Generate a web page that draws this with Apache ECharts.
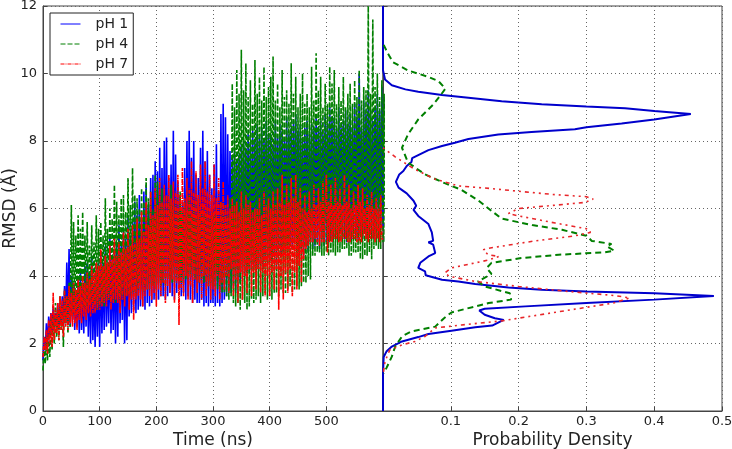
<!DOCTYPE html>
<html>
<head>
<meta charset="utf-8">
<title>RMSD</title>
<script src="https://cdn.jsdelivr.net/npm/echarts@6/dist/echarts.min.js"></script>
<style>
html, body { margin: 0; padding: 0; background: #fff; }
#main { width: 732px; height: 449px; }
</style>
</head>
<body>
<div id="main"></div>
<script>
// RMSD traces, one value every 2 ns, one row per 100 ns
var timeStep = 2;
var rmsdPh1 = [
    1.5,2.2,1.8,2.6,1.9,2.8,2.2,2.9,2.3,3.1,2.4,2.9,2.5,3.2,2.4,3.1,2.6,3.4,2.5,3.7,2.6,4.4,2.6,4.8,2.5,4.0,2.7,3.8,2.4,3.5,2.5,3.9,2.3,4.2,2.4,3.8,2.3,4.3,2.5,4.4,2.2,4.1,2.0,4.6,2.1,3.8,1.9,4.2,2.2,4.4,
    1.9,4.6,2.3,4.4,2.4,4.9,2.5,4.3,2.6,5.2,2.3,4.5,2.4,4.8,2.0,5.0,2.2,5.5,2.6,4.9,2.7,5.4,2.0,5.1,2.1,5.8,2.8,5.2,2.9,5.6,3.0,6.2,2.9,5.8,3.0,6.4,3.1,5.6,3.1,6.5,3.0,6.7,3.2,6.1,3.1,6.9,3.2,7.0,3.3,7.4,
    3.3,7.1,3.3,7.8,3.4,7.2,3.4,8.0,3.3,8.1,3.4,6.9,3.5,7.3,3.4,8.3,3.3,7.6,3.5,6.8,3.6,6.4,3.4,6.2,3.5,7.2,3.3,8.0,3.4,8.3,3.3,7.5,3.2,8.0,3.3,7.0,3.2,6.9,3.2,7.8,3.3,8.3,3.1,7.4,3.2,7.7,3.1,7.0,3.2,6.6,
    3.2,7.3,3.1,7.9,3.2,6.5,3.1,8.8,3.2,9.1,3.3,8.7,3.4,8.2,3.6,7.7,3.5,7.5,3.7,7.7,3.5,7.4,3.9,7.6,3.8,7.9,4.1,8.0,4.0,7.8,4.2,8.2,4.1,7.9,4.2,8.3,4.3,8.0,4.4,8.5,4.2,8.1,4.3,8.4,4.2,8.0,4.5,8.6,4.4,8.2,
    4.5,8.2,4.4,7.9,4.6,8.6,4.3,8.1,4.8,8.5,4.6,8.3,4.7,8.0,4.8,8.7,4.9,8.2,5.0,8.4,4.8,8.6,5.1,8.8,4.9,8.3,4.7,8.5,4.8,8.1,4.6,8.4,4.9,8.6,4.7,8.2,5.0,8.5,4.8,8.3,4.9,8.7,5.0,8.4,4.8,8.6,5.1,8.2,4.9,8.8,
    5.0,8.5,5.0,9.0,5.1,8.6,5.0,8.7,5.2,8.3,5.1,9.0,5.3,8.4,5.2,8.6,5.1,8.9,5.0,8.5,5.2,8.8,5.1,8.4,5.3,9.1,5.2,8.7,5.1,10.0,5.2,8.3,5.1,9.2,5.3,8.8,5.1,9.5,5.3,8.9,5.2,8.6,5.1,9.0,5.3,9.4,5.2,8.9,5.4,9.6,
    5.4
];
var rmsdPh4 = [
    1.2,1.9,1.4,2.2,1.5,2.4,1.6,2.7,1.8,2.8,2.0,3.2,2.2,3.0,2.1,3.4,2.4,3.1,1.9,3.6,2.6,3.4,2.3,3.8,2.5,6.1,2.8,5.6,2.9,5.2,3.0,5.8,2.8,5.4,3.0,5.9,3.1,5.2,3.0,5.6,3.1,4.9,3.2,5.5,3.1,5.0,3.2,5.8,3.0,5.4,
    3.1,5.6,3.2,5.2,3.1,6.3,3.3,5.4,3.3,6.0,3.2,5.7,3.3,6.7,3.2,6.2,3.4,5.8,3.3,6.3,3.4,6.4,3.3,5.9,3.4,6.9,3.5,6.1,3.4,7.2,3.5,6.4,3.4,6.3,3.6,6.0,3.6,6.6,3.5,6.2,3.7,6.9,3.6,6.3,3.6,6.5,3.7,6.0,3.7,7.0,
    3.6,6.8,3.8,6.4,3.7,6.6,3.8,6.0,3.7,6.4,3.9,6.2,3.9,6.7,3.8,6.1,3.8,6.3,3.9,5.9,3.9,6.5,3.8,6.0,3.8,6.2,3.9,5.9,3.9,6.4,4.0,5.8,4.0,6.2,3.9,5.8,3.9,6.3,3.8,5.9,3.9,6.1,3.8,5.8,3.8,6.0,3.7,5.7,3.8,5.9,
    3.7,5.8,3.7,6.0,3.6,5.7,3.6,6.2,3.5,5.9,3.5,6.1,3.4,5.8,3.3,6.3,3.4,9.7,3.2,9.0,3.1,10.1,3.2,9.4,3.0,10.7,3.3,9.5,3.2,10.3,3.0,9.3,3.1,9.8,3.3,9.1,3.2,10.4,3.3,9.4,3.4,9.9,3.2,9.2,3.4,10.2,3.5,9.3,3.3,9.6,
    3.4,9.9,3.3,10.5,3.5,9.2,3.5,9.7,3.4,9.0,3.6,10.1,3.5,9.3,3.5,9.5,3.6,9.1,3.7,10.3,3.5,9.4,3.6,9.9,3.7,9.0,3.6,9.4,3.7,10.0,3.8,9.1,3.8,9.4,4.0,9.0,3.9,10.2,4.6,9.2,4.6,10.6,4.7,9.5,4.7,9.9,4.6,9.0,4.6,9.7,4.7,9.1,4.6,10.2,
    4.7,9.7,4.7,10.1,4.6,9.1,4.7,9.6,4.7,9.2,4.8,9.9,4.8,9.0,4.8,9.4,4.6,9.7,4.6,9.1,4.7,9.8,4.7,9.3,4.7,10.1,4.5,9.2,4.5,9.6,4.6,9.5,4.6,12.0,4.7,9.4,4.5,11.6,4.8,9.6,4.9,10.0,4.8,9.3,4.8,9.8,5.0,9.4,5.0,9.9,5.0,9.5,5.0,9.6,
    5.0
];
var rmsdPh7 = [
    1.6,2.2,1.8,2.4,1.7,2.7,2.0,2.9,1.9,3.5,2.1,3.0,2.3,3.2,2.1,3.4,2.4,3.3,2.2,3.6,2.5,3.4,2.4,3.7,2.6,3.5,2.5,3.8,2.6,3.6,2.4,3.9,2.7,3.7,2.6,4.0,2.8,3.8,2.7,4.1,2.9,3.9,2.8,4.3,2.9,4.1,2.9,4.4,3.0,4.3,
    3.0,4.8,3.1,4.3,3.2,4.6,3.1,4.4,3.3,4.9,3.0,4.5,3.2,5.1,3.3,4.6,3.2,5.0,2.9,4.7,3.3,5.3,3.1,4.8,3.4,5.4,3.0,4.9,3.3,5.5,2.7,5.0,3.3,5.7,3.4,5.1,3.3,5.9,3.1,5.3,3.4,6.2,3.6,5.5,3.4,6.5,3.3,5.8,3.5,6.6,
    3.1,6.1,3.6,6.9,3.4,6.2,3.8,6.7,3.2,6.4,3.7,7.0,3.5,6.3,3.9,6.8,3.2,6.5,3.8,7.0,2.55,6.4,3.6,7.2,3.4,6.3,4.0,6.9,3.3,6.6,3.7,7.4,3.2,6.5,3.9,7.1,3.5,6.4,3.8,7.3,3.3,6.6,4.0,7.4,3.4,6.5,3.7,7.0,3.3,6.4,
    3.6,7.3,3.4,6.3,4.0,6.9,3.3,6.2,3.8,6.8,3.6,6.1,4.0,6.4,3.5,6.0,4.2,6.3,3.4,6.1,3.9,6.2,3.2,5.9,4.1,6.5,3.3,6.0,4.0,6.4,3.5,6.1,4.2,6.2,3.4,5.9,4.1,6.0,3.6,6.0,4.2,6.3,3.5,5.8,4.1,6.5,3.4,6.1,4.0,6.3,
    3.4,6.0,4.1,6.5,3.6,6.1,4.2,6.6,3.0,6.2,4.0,7.0,3.3,6.1,4.1,6.7,3.5,6.2,4.2,6.9,3.4,6.3,4.1,7.0,3.6,6.2,4.3,6.6,3.8,6.0,4.5,6.4,4.8,5.9,4.9,6.5,5.0,6.0,5.0,6.7,5.1,6.1,5.0,6.6,4.9,6.2,5.0,6.8,5.0,6.1,
    7.0,4.7,6.2,5.0,6.7,5.0,6.1,5.1,6.9,5.1,6.2,5.0,6.6,5.0,6.1,5.1,7.0,5.1,6.2,5.0,6.7,5.0,6.0,5.1,6.5,5.1,6.1,5.0,6.7,5.0,6.2,5.0,6.6,5.2,6.0,5.1,6.4,5.0,6.1,5.1,6.5,5.1,6.0,5.0,6.3,5.1,6.0,5.0,6.4,5.1,
    5.1
];

// probability density, [density, rmsd]
var densityPh1 = [
    [0,12],[0,10.1],[0.003,9.82],[0.013,9.65],[0.033,9.53],[0.052,9.46],[0.087,9.36],[0.126,9.28],[0.175,9.18],
    [0.234,9.09],[0.3,9.02],[0.357,8.97],[0.4,8.89],[0.454,8.8],[0.4,8.64],[0.352,8.52],[0.3,8.41],[0.283,8.35],
    [0.219,8.27],[0.17,8.19],[0.126,8.06],[0.106,7.95],[0.087,7.85],[0.067,7.73],[0.052,7.58],[0.043,7.49],
    [0.042,7.38],[0.035,7.26],[0.03,7.11],[0.024,7.01],[0.019,6.79],[0.023,6.62],[0.035,6.45],[0.045,6.23],
    [0.049,6.08],[0.045,5.96],[0.052,5.78],[0.067,5.54],[0.072,5.29],[0.074,5.04],[0.067,5.0],[0.074,4.93],
    [0.077,4.68],[0.067,4.58],[0.055,4.39],[0.052,4.24],[0.062,4.14],[0.063,4.02],[0.087,3.89],[0.111,3.84],
    [0.136,3.76],[0.185,3.66],[0.234,3.59],[0.3,3.54],[0.4,3.49],[0.488,3.41],[0.4,3.3],[0.3,3.2],[0.21,3.1],
    [0.15,3.03],[0.142,2.98],[0.15,2.85],[0.165,2.75],[0.178,2.7],[0.161,2.53],[0.136,2.48],[0.101,2.38],
    [0.067,2.28],[0.052,2.19],[0.028,2.06],[0.013,1.91],[0.005,1.76],[0.001,1.6],[0,1.12],[0,0]
];
var densityPh4 = [
    [0.001,10.85],[0.007,10.6],[0.015,10.33],[0.037,10.09],[0.067,9.9],[0.082,9.77],[0.092,9.55],[0.084,9.33],
    [0.074,9.08],[0.052,8.64],[0.037,8.2],[0.028,7.8],[0.037,7.36],[0.062,7.01],[0.091,6.75],[0.116,6.55],
    [0.141,6.23],[0.16,5.93],[0.175,5.7],[0.22,5.51],[0.264,5.37],[0.3,5.19],[0.308,5.04],[0.337,4.95],
    [0.33,4.88],[0.341,4.75],[0.327,4.7],[0.259,4.63],[0.204,4.53],[0.16,4.39],[0.153,4.24],[0.16,4.06],
    [0.14,3.84],[0.15,3.69],[0.187,3.49],[0.189,3.3],[0.156,3.2],[0.101,2.92],[0.09,2.75],[0.077,2.5],
    [0.042,2.36],[0.028,2.21],[0.018,1.91],[0.013,1.61],[0.005,1.27],[0.001,1.12]
];
var densityPh7 = [
    [0,7.8],[0.018,7.53],[0.047,7.16],[0.077,6.87],[0.111,6.67],[0.16,6.59],[0.2,6.51],[0.254,6.41],[0.3,6.35],
    [0.31,6.28],[0.298,6.18],[0.244,6.08],[0.2,6.0],[0.185,5.85],[0.2,5.78],[0.254,5.57],[0.303,5.39],[0.306,5.29],
    [0.283,5.19],[0.224,5.04],[0.155,4.82],[0.148,4.78],[0.155,4.63],[0.171,4.58],[0.155,4.47],[0.101,4.24],
    [0.091,4.09],[0.098,3.99],[0.136,3.84],[0.2,3.69],[0.274,3.54],[0.342,3.42],[0.364,3.35],[0.34,3.2],
    [0.284,3.02],[0.2,2.75],[0.175,2.67],[0.116,2.55],[0.077,2.46],[0.062,2.21],[0.047,2.06],[0.028,1.96],
    [0.01,1.81],[0.003,1.47],[0,1.07]
];

var fontName = 'DejaVu Sans';
var textColor = '#222';
var spineColor = '#444';

function toTimeData(values) {
    var out = [];
    for (var i = 0; i < values.length; i++) {
        out.push([i * timeStep, values[i]]);
    }
    return out;
}

function axisCommon() {
    return {
        type: 'value',
        nameLocation: 'middle',
        nameMoveOverlap: false,
        nameTextStyle: { fontFamily: fontName, fontSize: 17, color: textColor },
        axisLine: { show: true, lineStyle: { color: spineColor, width: 1 } },
        axisTick: { show: true, inside: true, length: 4, lineStyle: { color: spineColor } },
        axisLabel: { fontFamily: fontName, fontSize: 13, color: textColor },
        splitLine: { show: true, lineStyle: { color: '#666', type: [1, 3], width: 1 } }
    };
}

function makeAxis(extra) {
    var axis = axisCommon();
    for (var k in extra) {
        if (k == 'axisLabel') {
            for (var j in extra[k]) {
                axis.axisLabel[j] = extra[k][j];
            }
        } else {
            axis[k] = extra[k];
        }
    }
    return axis;
}

var myChart = echarts.init(document.getElementById('main'));

var option = {
    animation: false,
    backgroundColor: '#fff',
    grid: [
        { left: 43, right: 349, top: 6, bottom: 38, outerBoundsMode: 'none', show: true, borderColor: spineColor, borderWidth: 1, backgroundColor: 'transparent' },
        { left: 383, right: 10, top: 6, bottom: 38, outerBoundsMode: 'none', show: true, borderColor: spineColor, borderWidth: 1, backgroundColor: 'transparent' }
    ],
    legend: {
        data: ['pH 1', 'pH 4', 'pH 7'],
        orient: 'vertical',
        left: 50,
        top: 13,
        itemWidth: 20,
        itemHeight: 14,
        itemGap: 6,
        padding: [4, 5, 4, 10],
        backgroundColor: '#fff',
        borderColor: '#222',
        borderWidth: 1,
        borderRadius: 0,
        itemStyle: { color: 'transparent', borderColor: 'transparent', borderWidth: 0 },
        lineStyle: { width: 1 },
        textStyle: { fontFamily: fontName, fontSize: 14, color: textColor, padding: [0, 0, 0, 10] }
    },
    xAxis: [
        makeAxis({
            gridIndex: 0, min: 0, max: 600, interval: 100,
            name: 'Time (ns)', nameGap: 21,
            axisLabel: { showMaxLabel: false, margin: 4 }
        }),
        makeAxis({
            gridIndex: 1, min: 0, max: 0.5, interval: 0.1,
            name: 'Probability Density', nameGap: 21,
            axisLabel: { showMinLabel: false, margin: 4 }
        })
    ],
    yAxis: [
        makeAxis({
            gridIndex: 0, min: 0, max: 12, interval: 2,
            name: 'RMSD (Å)', nameGap: 24,
            axisLabel: { margin: 6 }
        }),
        makeAxis({
            gridIndex: 1, min: 0, max: 12, interval: 2,
            axisLabel: { show: false }
        })
    ],
    series: [
        {
            name: 'pH 1', type: 'line', xAxisIndex: 0, yAxisIndex: 0, showSymbol: false, symbol: 'none',
            data: toTimeData(rmsdPh1), itemStyle: { color: '#0000ff' },
            lineStyle: { color: '#0000ff', width: 1.6 }
        },
        {
            name: 'pH 4', type: 'line', xAxisIndex: 0, yAxisIndex: 0, showSymbol: false, symbol: 'none',
            data: toTimeData(rmsdPh4), itemStyle: { color: '#007f00' },
            lineStyle: { color: '#007f00', width: 1.6, type: [5, 2] }
        },
        {
            name: 'pH 7', type: 'line', xAxisIndex: 0, yAxisIndex: 0, showSymbol: false, symbol: 'none',
            data: toTimeData(rmsdPh7), itemStyle: { color: '#ff0000' },
            lineStyle: { color: '#ff0000', width: 1.6, type: [4, 1, 1, 1] }
        },
        {
            name: 'pH 1', type: 'line', xAxisIndex: 1, yAxisIndex: 1, showSymbol: false, symbol: 'none',
            data: densityPh1, itemStyle: { color: '#0000ff' },
            lineStyle: { color: '#0000cc', width: 2 }
        },
        {
            name: 'pH 4', type: 'line', xAxisIndex: 1, yAxisIndex: 1, showSymbol: false, symbol: 'none',
            data: densityPh4, itemStyle: { color: '#007f00' },
            lineStyle: { color: '#007f00', width: 2, type: [6, 4] }
        },
        {
            name: 'pH 7', type: 'line', xAxisIndex: 1, yAxisIndex: 1, showSymbol: false, symbol: 'none',
            data: densityPh7, itemStyle: { color: '#ff0000' },
            lineStyle: { color: '#e8262a', width: 1.6, type: [2, 4, 2, 4, 4, 4] }
        }
    ]
};

myChart.setOption(option);
</script>
</body>
</html>
